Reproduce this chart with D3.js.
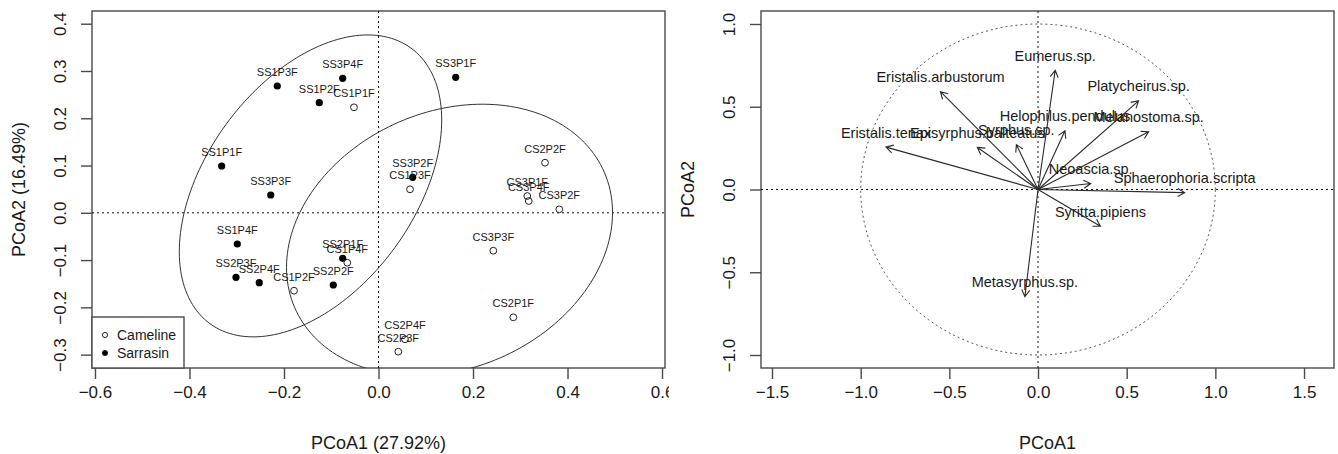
<!DOCTYPE html>
<html>
<head>
<meta charset="utf-8">
<script src="https://cdn.jsdelivr.net/npm/d3@7"></script>
<style>
  html, body { margin: 0; padding: 0; background: #fff; }
  svg text { font-family: "Liberation Sans", Arial, sans-serif; fill: #1a1a1a; }
</style>
</head>
<body>
<svg id="fig" width="1338" height="454"></svg>
<script>
// ---- Sample scores on the first two PCoA axes ----
const sampleNames = ["SS1P1F","SS1P2F","SS1P3F","SS1P4F","SS2P1F","SS2P2F","SS2P3F","SS2P4F",
                     "SS3P1F","SS3P2F","SS3P3F","SS3P4F",
                     "CS1P1F","CS1P2F","CS1P3F","CS1P4F","CS2P1F","CS2P2F","CS2P3F","CS2P4F",
                     "CS3P1F","CS3P2F","CS3P3F","CS3P4F"];
const pcoa1 = [-0.3319,-0.1253,-0.2142,-0.2988,-0.0758,-0.0957,-0.3016,-0.2523,
               0.1634,0.0724,-0.2281,-0.0758,
               -0.0519,-0.1788,0.0667,-0.0660,0.2853,0.3524,0.0419,0.0561,
               0.3149,0.3826,0.2430,0.3179];
const pcoa2 = [0.0990,0.2329,0.2682,-0.0660,-0.0963,-0.1527,-0.1364,-0.1479,
               0.2866,0.0751,0.0377,0.2845,
               0.2232,-0.1648,0.0497,-0.1056,-0.2211,0.1060,-0.2938,-0.2676,
               0.0355,0.0074,-0.0802,0.0250];
const cropGroup = ["Sarrasin","Sarrasin","Sarrasin","Sarrasin","Sarrasin","Sarrasin","Sarrasin","Sarrasin",
                   "Sarrasin","Sarrasin","Sarrasin","Sarrasin",
                   "Cameline","Cameline","Cameline","Cameline","Cameline","Cameline","Cameline","Cameline",
                   "Cameline","Cameline","Cameline","Cameline"];
const legendGroups = ["Cameline","Sarrasin"];

// ---- Group ellipses (centre and covariance shape) ----
const ellipseGroup = ["Sarrasin","Cameline"];
const ellipseCx  = [-0.1439, 0.1503];
const ellipseCy  = [0.0569, -0.0575];
const ellipseSxx = [0.0771, 0.1190];
const ellipseSyy = [0.1020, 0.0825];
const ellipseSxy = [0.0387, 0.0200];

// ---- Species vectors (envfit) ----
const species = ["Eumerus.sp.","Eristalis.arbustorum","Platycheirus.sp.","Melanostoma.sp.",
                 "Helophilus.pendulus","Syrphus.sp.","Episyrphus.balteatus","Eristalis.tenax",
                 "Neoascia.sp.","Sphaerophoria.scripta","Syritta.pipiens","Metasyrphus.sp."];
const vecX = [0.097,-0.550,0.567,0.624,0.152,-0.122,-0.342,-0.857,0.297,0.827,0.352,-0.074];
const vecY = [0.720,0.591,0.536,0.349,0.355,0.271,0.254,0.256,0.036,-0.019,-0.222,-0.648];

// ---- Axis ticks ----
const leftXTicks  = [-0.6,-0.4,-0.2,0.0,0.2,0.4,0.6];
const leftYTicks  = [-0.3,-0.2,-0.1,0.0,0.1,0.2,0.3,0.4];
const rightXTicks = [-1.5,-1.0,-0.5,0.0,0.5,1.0,1.5];
const rightYTicks = [-1.0,-0.5,0.0,0.5,1.0];

const svg = d3.select("#fig");
const boxColor = "#4a4a4a";
const fmt = d3.format(".1f");

function drawFrame(g, x, y, xTicks, yTicks, box, xTitle, yTitle) {
  // box
  g.append("rect").attr("x", box.x0).attr("y", box.y0)
    .attr("width", box.x1 - box.x0).attr("height", box.y1 - box.y0)
    .attr("fill", "none").attr("stroke", boxColor).attr("stroke-width", 1.4);
  // x axis
  const xa = g.append("g").attr("transform", `translate(0,${box.y1})`)
    .call(d3.axisBottom(x).tickValues(xTicks).tickFormat(fmt).tickSize(11).tickSizeOuter(0));
  xa.select(".domain").remove();
  xa.selectAll("line").attr("stroke", boxColor).attr("stroke-width", 1.4);
  xa.selectAll("text").attr("y", 30).attr("dy", null).attr("font-size", 17)
    .style("font-family", "Liberation Sans, Arial, sans-serif").attr("fill", "#1a1a1a");
  // y axis (labels parallel to the axis)
  const ya = g.append("g").attr("transform", `translate(${box.x0},0)`)
    .call(d3.axisLeft(y).tickValues(yTicks).tickFormat(fmt).tickSize(11).tickSizeOuter(0));
  ya.select(".domain").remove();
  ya.selectAll("line").attr("stroke", boxColor).attr("stroke-width", 1.4);
  ya.selectAll("text").attr("x", null).attr("dy", null)
    .attr("text-anchor", "middle").attr("font-size", 17)
    .style("font-family", "Liberation Sans, Arial, sans-serif").attr("fill", "#1a1a1a")
    .attr("transform", "translate(-32,0) rotate(-90) translate(0,6)");
  // titles
  g.append("text").attr("x", (box.x0 + box.x1) / 2).attr("y", 449)
    .attr("text-anchor", "middle").attr("font-size", 18).text(xTitle);
  g.append("text")
    .attr("transform", `translate(${box.x0 - 67},${(box.y0 + box.y1) / 2}) rotate(-90)`)
    .attr("text-anchor", "middle").attr("font-size", 18).text(yTitle);
}

function dottedAxes(g, x, y, box) {
  g.append("line").attr("x1", box.x0).attr("x2", box.x1).attr("y1", y(0)).attr("y2", y(0))
    .attr("stroke", "#111").attr("stroke-width", 1).attr("stroke-dasharray", "2,3");
  g.append("line").attr("x1", x(0)).attr("x2", x(0)).attr("y1", box.y0).attr("y2", box.y1)
    .attr("stroke", "#111").attr("stroke-width", 1).attr("stroke-dasharray", "2,3");
}

// ================= Left panel: PCoA of samples =================
const boxL = {x0: 92, x1: 665, y0: 11, y1: 368};
const xL = d3.scaleLinear().domain([-0.6063, 0.6063]).range([boxL.x0, boxL.x1]);
const yL = d3.scaleLinear().domain([-0.3283, 0.4269]).range([boxL.y1, boxL.y0]);

svg.append("defs").call(d => {
  d.append("clipPath").attr("id", "figL").append("rect")
    .attr("x", 0).attr("y", 0).attr("width", 669).attr("height", 454);
  d.append("clipPath").attr("id", "plotL").append("rect")
    .attr("x", boxL.x0).attr("y", boxL.y0).attr("width", boxL.x1 - boxL.x0).attr("height", boxL.y1 - boxL.y0);
});

const gL = svg.append("g").attr("clip-path", "url(#figL)");
drawFrame(gL, xL, yL, leftXTicks, leftYTicks, boxL, "PCoA1 (27.92%)", "PCoA2 (16.49%)");

const plotL = gL.append("g").attr("clip-path", "url(#plotL)");
dottedAxes(plotL, xL, yL, boxL);

// group ellipses, traced from the Cholesky factor of each shape matrix
const ellipseLine = d3.line().x(d => xL(d[0])).y(d => yL(d[1]));
ellipseGroup.forEach((grp, i) => {
  const l11 = Math.sqrt(ellipseSxx[i]);
  const l21 = ellipseSxy[i] / l11;
  const l22 = Math.sqrt(ellipseSyy[i] - l21 * l21);
  const pts = d3.range(0, 361, 2).map(a => {
    const t = a * Math.PI / 180;
    return [ellipseCx[i] + l11 * Math.cos(t), ellipseCy[i] + l21 * Math.cos(t) + l22 * Math.sin(t)];
  });
  plotL.append("path").attr("d", ellipseLine(pts))
    .attr("fill", "none").attr("stroke", "#333").attr("stroke-width", 1);
});

// points and their labels
const samples = sampleNames.map((n, i) => ({name: n, x: pcoa1[i], y: pcoa2[i], grp: cropGroup[i]}));
plotL.selectAll("circle.pt").data(samples).enter().append("circle")
  .attr("class", "pt")
  .attr("cx", d => xL(d.x)).attr("cy", d => yL(d.y))
  .attr("r", d => d.grp === "Sarrasin" ? 3.6 : 3.4)
  .attr("fill", d => d.grp === "Sarrasin" ? "#000" : "none")
  .attr("stroke", d => d.grp === "Sarrasin" ? "none" : "#222")
  .attr("stroke-width", 1);
plotL.selectAll("text.lab").data(samples).enter().append("text")
  .attr("class", "lab")
  .attr("x", d => xL(d.x)).attr("y", d => yL(d.y) - 10)
  .attr("text-anchor", "middle").attr("font-size", 11).text(d => d.name);

// legend
const leg = gL.append("g");
leg.append("rect").attr("x", boxL.x0).attr("y", 317).attr("width", 92).attr("height", boxL.y1 - 317)
  .attr("fill", "#fff").attr("stroke", boxColor).attr("stroke-width", 1.4);
legendGroups.forEach((grp, i) => {
  const cy = 335 + i * 18;
  leg.append("circle").attr("cx", 105).attr("cy", cy).attr("r", 2.6)
    .attr("fill", grp === "Sarrasin" ? "#000" : "none")
    .attr("stroke", "#222").attr("stroke-width", 1);
  leg.append("text").attr("x", 117).attr("y", cy + 5).attr("font-size", 14).text(grp);
});

// ================= Right panel: species vectors =================
const boxR = {x0: 761, x1: 1334, y0: 11, y1: 368};
const xR = d3.scaleLinear().domain([-1.562, 1.669]).range([boxR.x0, boxR.x1]);
const yR = d3.scaleLinear().domain([-1.0785, 1.0785]).range([boxR.y1, boxR.y0]);

const gR = svg.append("g");
drawFrame(gR, xR, yR, rightXTicks, rightYTicks, boxR, "PCoA1", "PCoA2");
dottedAxes(gR, xR, yR, boxR);

// unit circle
const circ = d3.range(0, 361, 2).map(a => [Math.cos(a * Math.PI / 180), Math.sin(a * Math.PI / 180)]);
gR.append("path")
  .attr("d", d3.line().x(d => xR(d[0])).y(d => yR(d[1]))(circ))
  .attr("fill", "none").attr("stroke", "#555").attr("stroke-width", 1).attr("stroke-dasharray", "2,3");

// arrows from the origin with open heads
const vectors = species.map((s, i) => ({name: s, x: vecX[i], y: vecY[i]}));
const ox = xR(0), oy = yR(0);
vectors.forEach(v => {
  const tx = xR(v.x), ty = yR(v.y);
  const ang = Math.atan2(ty - oy, tx - ox);
  const hl = 8, ha = Math.PI / 6;
  const p1 = [tx - hl * Math.cos(ang - ha), ty - hl * Math.sin(ang - ha)];
  const p2 = [tx - hl * Math.cos(ang + ha), ty - hl * Math.sin(ang + ha)];
  gR.append("path")
    .attr("d", `M${ox},${oy}L${tx},${ty}M${p1[0]},${p1[1]}L${tx},${ty}L${p2[0]},${p2[1]}`)
    .attr("fill", "none").attr("stroke", "#2a2a2a").attr("stroke-width", 1.1);
});
gR.selectAll("text.sp").data(vectors).enter().append("text")
  .attr("class", "sp")
  .attr("x", d => xR(d.x)).attr("y", d => yR(d.y) - 9.5)
  .attr("text-anchor", "middle").attr("font-size", 14.5).text(d => d.name);
</script>
</body>
</html>
